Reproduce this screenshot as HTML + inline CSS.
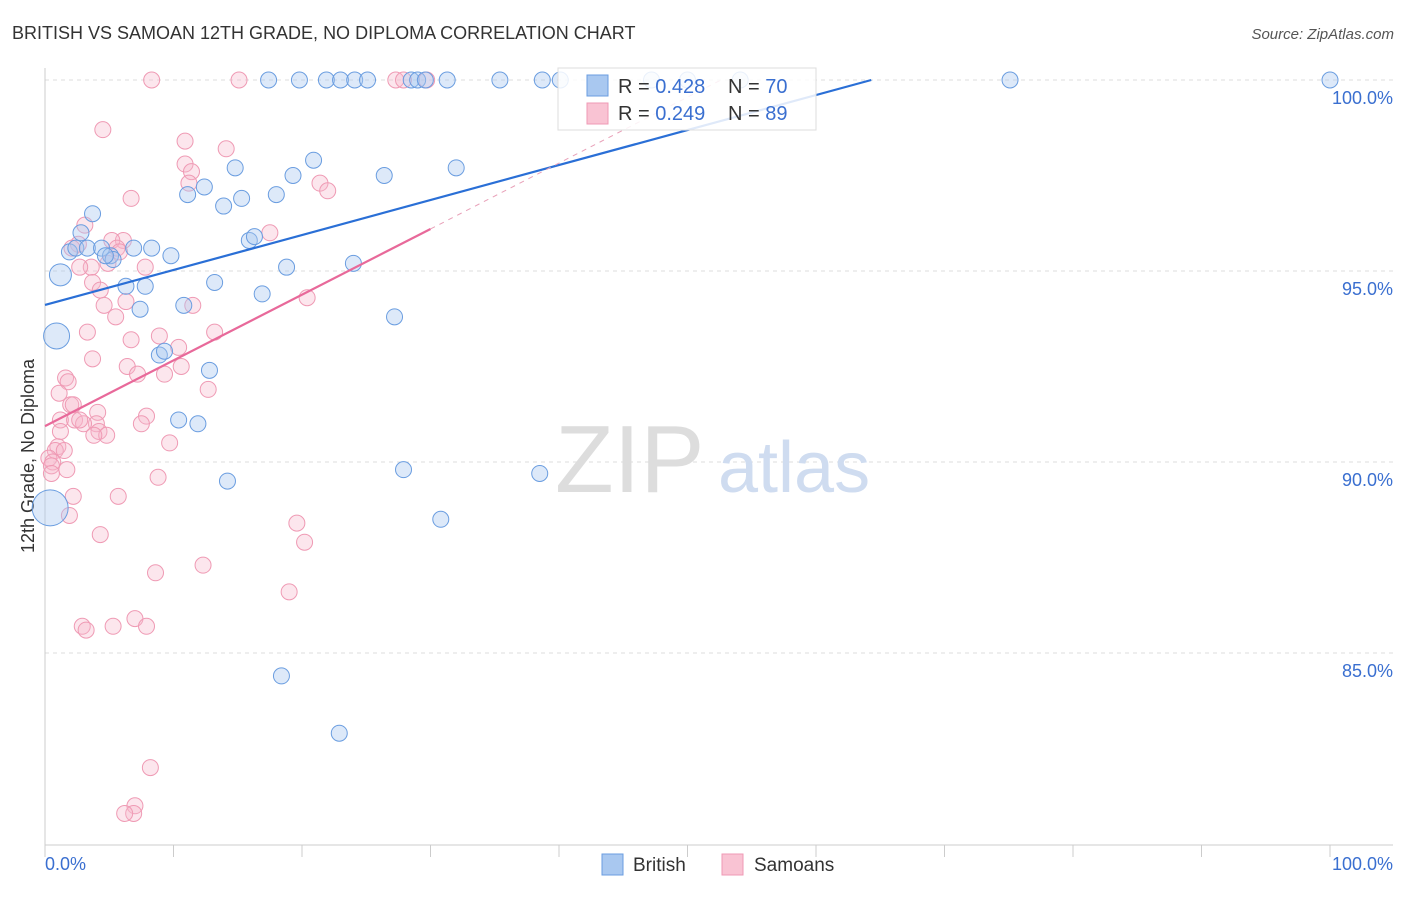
<!DOCTYPE html>
<html><head><meta charset="utf-8"><style>
body{margin:0;background:#fff;font-family:"Liberation Sans",sans-serif;}
svg text{font-family:"Liberation Sans",sans-serif;}
</style></head><body>
<svg id="chart" width="1406" height="892">
<text x="12" y="39" font-size="18" fill="#333">BRITISH VS SAMOAN 12TH GRADE, NO DIPLOMA CORRELATION CHART</text>
<text x="1394" y="39" font-size="15" fill="#555" font-style="italic" text-anchor="end">Source: ZipAtlas.com</text>
<text x="34" y="456" font-size="18" fill="#333" text-anchor="middle" transform="rotate(-90 34 456)">12th Grade, No Diploma</text>
<g id="grid"></g>
<text x="555" y="492" font-size="96" fill="#ddd" font-family="Liberation Serif">ZIP</text>
<text x="718" y="492" font-size="72" fill="#cfdcf0">atlas</text>
<g id="pts"></g>
<g id="lines"></g>
<g>
<rect x="558" y="68" width="258" height="62" fill="#fff" fill-opacity="0.85" stroke="#ddd"/>
<rect x="587" y="75" width="21" height="21" fill="#a9c8f0" stroke="#6a9de0"/>
<rect x="587" y="103" width="21" height="21" fill="#f9c3d3" stroke="#ef9ab4"/>
<text x="618" y="93" font-size="20" fill="#333">R = <tspan fill="#3a6fd0">0.428</tspan><tspan x="728">N = </tspan><tspan fill="#3a6fd0">70</tspan></text>
<text x="618" y="120" font-size="20" fill="#333">R = <tspan fill="#3a6fd0">0.249</tspan><tspan x="728">N = </tspan><tspan fill="#3a6fd0">89</tspan></text>
</g>
<g>
<rect x="602" y="854" width="21" height="21" fill="#a9c8f0" stroke="#6a9de0"/>
<text x="633" y="871" font-size="19" fill="#333">British</text>
<rect x="722" y="854" width="21" height="21" fill="#f9c3d3" stroke="#ef9ab4"/>
<text x="754" y="871" font-size="19" fill="#333">Samoans</text>
</g>
</svg>
<script>
const yTicks=[100,95,90,85];
const xTickLabels=["0.0%","100.0%"];
const britishX=[17.4,19.8,21.9,23.0,24.1,25.1,28.5,29.0,29.6,31.3,35.4,38.7,40.1,47.2,50.0,54.1,75.1,100,3.7,2.8,1.9,2.4,3.3,4.4,5.1,5.3,6.9,8.3,9.8,1.2,6.3,7.8,7.4,10.8,13.2,16.9,18.8,24.0,27.2,0.9,8.9,9.3,12.8,10.4,11.9,14.2,27.9,38.5,30.8,0.4,18.4,22.9,20.9,14.8,19.3,26.4,32.0,12.4,11.1,15.3,13.9,18.0,15.9,16.3,4.7];
const britishY=[100,100,100,100,100,100,100,100,100,100,100,100,100,100,100,100,100,100,96.5,96.0,95.5,95.6,95.6,95.6,95.4,95.3,95.6,95.6,95.4,94.9,94.6,94.6,94.0,94.1,94.7,94.4,95.1,95.2,93.8,93.3,92.8,92.9,92.4,91.1,91.0,89.5,89.8,89.7,88.5,88.8,84.4,82.9,97.9,97.7,97.5,97.5,97.7,97.2,97.0,96.9,96.7,97.0,95.8,95.9,95.4];
const britishR=[8,8,8,8,8,8,8,8,8,8,8,8,8,8,8,8,8,8,8,8,8,8,8,8,8,8,8,8,8,11,8,8,8,8,8,8,8,8,8,13,8,8,8,8,8,8,8,8,8,18,8,8,8,8,8,8,8,8,8,8,8,8,8,8,8];
const samoaX=[8.3,15.1,27.3,27.9,29.7,4.5,10.9,14.1,10.9,11.4,11.2,21.4,22.0,6.7,17.5,3.1,2.6,2.1,6.1,5.2,5.6,5.8,4.9,3.6,2.7,7.8,3.7,4.3,6.3,4.6,11.5,5.5,20.4,3.3,8.9,6.7,13.2,10.4,3.7,6.4,10.6,9.3,7.2,1.6,1.8,1.1,12.7,2.0,2.2,1.2,2.3,4.1,7.9,4.0,3.0,2.7,7.5,4.2,4.8,3.8,1.2,1.0,0.8,1.5,0.3,0.6,0.5,1.7,9.7,8.8,0.5,2.2,5.7,1.9,4.3,19.6,20.2,8.6,12.3,19.0,2.9,3.2,5.3,7.0,7.9,8.2,7.0,6.9,6.2];
const samoaY=[100,100,100,100,100,98.7,98.4,98.2,97.8,97.6,97.3,97.3,97.1,96.9,96.0,96.2,95.7,95.6,95.8,95.8,95.6,95.5,95.2,95.1,95.1,95.1,94.7,94.5,94.2,94.1,94.1,93.8,94.3,93.4,93.3,93.2,93.4,93.0,92.7,92.5,92.5,92.3,92.3,92.2,92.1,91.8,91.9,91.5,91.5,91.1,91.1,91.3,91.2,91.0,91.0,91.1,91.0,90.8,90.7,90.7,90.8,90.4,90.3,90.3,90.1,90.0,89.9,89.8,90.5,89.6,89.7,89.1,89.1,88.6,88.1,88.4,87.9,87.1,87.3,86.6,85.7,85.6,85.7,85.9,85.7,82.0,81.0,80.8,80.8];
const blueLine=[0,94.11,64.3,100];
const pinkLine=[0,90.94,30.0,96.1];
const pinkDash=[30.0,96.1,52.6,100];
const X=v=>45+v*12.85, Y=v=>80+(100-v)*38.2;
const NS="http://www.w3.org/2000/svg";
function mk(t,a,p){const e=document.createElementNS(NS,t);for(const k in a)e.setAttribute(k,a[k]);p.appendChild(e);return e;}
const grid=document.getElementById('grid');
yTicks.forEach(v=>{
 const l=mk('line',{x1:45,x2:1393,y1:Y(v),y2:Y(v),stroke:'#ddd','stroke-dasharray':'4 4'},grid);
 
 
 const t=mk('text',{x:1393,y:Y(v)+24,'font-size':18,fill:'#3a6fd0','text-anchor':'end'},grid);t.textContent=v.toFixed(1)+'%';
 
 
});
mk('line',{x1:45,x2:45,y1:68,y2:845,stroke:'#ccc'},grid);
mk('line',{x1:45,x2:1393,y1:845,y2:845,stroke:'#ccc'},grid);
for(let i=0;i<=10;i++){mk('line',{x1:X(i*10),x2:X(i*10),y1:845,y2:857,stroke:'#ccc'},grid);}
const t0=mk('text',{x:45,y:870,'font-size':18,fill:'#3a6fd0'},grid);t0.textContent=xTickLabels[0];


const t1=mk('text',{x:1393,y:870,'font-size':18,fill:'#3a6fd0','text-anchor':'end'},grid);t1.textContent=xTickLabels[1];


const pts=document.getElementById('pts');
samoaX.forEach((x,i)=>{const c=mk('circle',{cx:X(x),cy:Y(samoaY[i]),r:8,fill:'#f7b6ca','fill-opacity':0.35,stroke:'#ef9ab4','stroke-width':1},pts);
 
 });
britishX.forEach((x,i)=>{const c=mk('circle',{cx:X(x),cy:Y(britishY[i]),r:britishR[i],fill:'#a9c8f0','fill-opacity':0.4,stroke:'#6a9de0','stroke-width':1},pts);
 
 });
const lines=document.getElementById('lines');
const bl=mk('line',{x1:X(blueLine[0]),y1:Y(blueLine[1]),x2:X(blueLine[2]),y2:Y(blueLine[3]),stroke:'#2a6fd6','stroke-width':2.2},lines);


const pl=mk('line',{x1:X(pinkLine[0]),y1:Y(pinkLine[1]),x2:X(pinkLine[2]),y2:Y(pinkLine[3]),stroke:'#e8699a','stroke-width':2.2},lines);


const pd=mk('line',{x1:X(pinkDash[0]),y1:Y(pinkDash[1]),x2:X(pinkDash[2]),y2:Y(pinkDash[3]),stroke:'#e8a0b8','stroke-width':1,'stroke-dasharray':'5 5'},lines);


</script>
</body></html>
